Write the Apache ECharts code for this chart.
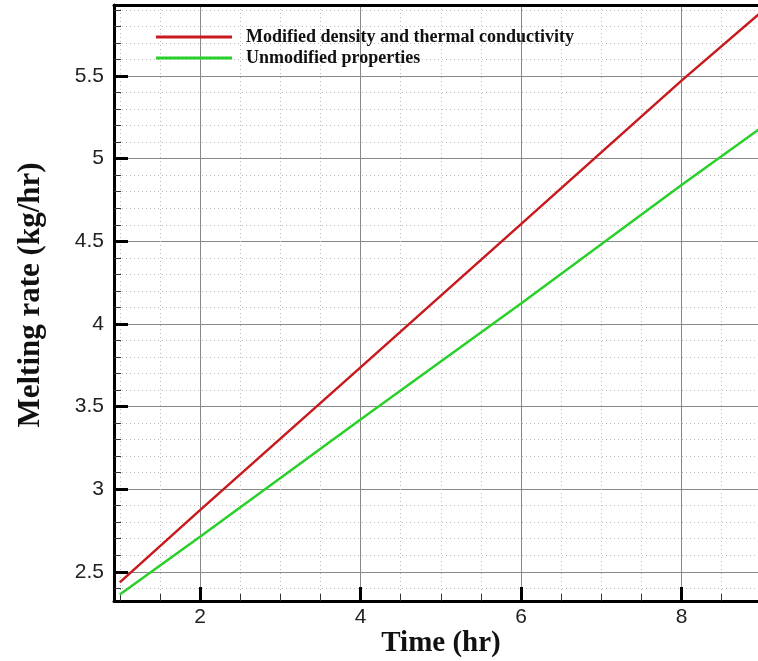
<!DOCTYPE html>
<html>
<head>
<meta charset="utf-8">
<script src="https://cdn.jsdelivr.net/npm/echarts@6/dist/echarts.min.js"></script>
<style>html,body{margin:0;padding:0;background:#fff;}#c{width:758px;height:661px;}</style>
</head>
<body>
<div id="c"></div>
<script>
// Data
var TIME = [1, 2, 4, 6, 8, 9];
var MODIFIED = [2.436, 2.873, 3.737, 4.604, 5.472, 5.89];
var UNMODIFIED = [2.363, 2.712, 3.422, 4.124, 4.840, 5.19];
var SERIES_NAMES = ['Modified density and thermal conductivity', 'Unmodified properties'];

// Axis ticks
var X_MAJOR = [2, 4, 6, 8];
var X_MINOR = [1, 1.5, 2.5, 3, 3.5, 4.5, 5, 5.5, 6.5, 7, 7.5, 8.5];
var Y_MAJOR = [2.5, 3, 3.5, 4, 4.5, 5, 5.5];
var Y_MINOR = [2.4, 2.6, 2.7, 2.8, 2.9, 3.1, 3.2, 3.3, 3.4, 3.6, 3.7, 3.8, 3.9,
               4.1, 4.2, 4.3, 4.4, 4.6, 4.7, 4.8, 4.9, 5.1, 5.2, 5.3, 5.4, 5.6, 5.7, 5.8, 5.9];
var X_RANGE = [0.928, 8.953];
var Y_RANGE = [2.323, 5.93];

function pairs(xs, ys) { return xs.map(function (x, i) { return [x, ys[i]]; }); }

var chart = echarts.init(document.getElementById('c'));
var labelFont = { fontFamily: 'Liberation Sans', fontSize: 21, color: '#222' };

chart.setOption({
  animation: false,
  backgroundColor: '#fff',
  grid: { left: 114, top: 5, right: 0, bottom: 60, outerBoundsMode: 'none', containLabel: false },
  legend: {
    orient: 'vertical',
    left: 156, top: 28, padding: 0,
    itemWidth: 76, itemHeight: 3, itemGap: 3,
    icon: 'rect',
    textStyle: { fontFamily: 'Liberation Serif', fontWeight: 'bold', fontSize: 18, color: '#111', padding: [0, 0, 0, 9] },
    data: SERIES_NAMES
  },
  xAxis: [
    { type: 'value', min: X_RANGE[0], max: X_RANGE[1], position: 'bottom',
      axisLine: { show: false },
      axisTick: { show: true, inside: true, length: 7, lineStyle: { color: '#333', width: 1 }, customValues: X_MINOR },
      axisLabel: { show: false },
      splitLine: { show: true, lineStyle: { color: '#bbb', type: [1, 3], width: 1 } } },
    { type: 'value', min: X_RANGE[0], max: X_RANGE[1], position: 'bottom',
      name: 'Time (hr)', nameLocation: 'middle', nameGap: 28, nameMoveOverlap: false,
      nameTextStyle: { fontFamily: 'Liberation Serif', fontWeight: 'bold', fontSize: 29, color: '#111', padding: [0, 0, 0, 10] },
      axisLine: { show: true, onZero: false, lineStyle: { color: '#000', width: 3 } },
      axisTick: { show: true, inside: true, length: 14, lineStyle: { color: '#000', width: 3 }, customValues: X_MAJOR },
      axisLabel: Object.assign({ customValues: X_MAJOR, margin: 6 }, labelFont),
      splitLine: { show: true, lineStyle: { color: '#888', width: 1 } } },
    { type: 'value', min: X_RANGE[0], max: X_RANGE[1], position: 'top',
      axisLine: { show: true, onZero: false, lineStyle: { color: '#000', width: 3 } },
      axisTick: { show: false }, axisLabel: { show: false }, splitLine: { show: false } }
  ],
  yAxis: [
    { type: 'value', min: Y_RANGE[0], max: Y_RANGE[1], position: 'left',
      axisLine: { show: false },
      axisTick: { show: true, inside: true, length: 7, lineStyle: { color: '#333', width: 1 }, customValues: Y_MINOR },
      axisLabel: { show: false },
      splitLine: { show: true, lineStyle: { color: '#bbb', type: [1, 3], width: 1 } } },
    { type: 'value', min: Y_RANGE[0], max: Y_RANGE[1], position: 'left',
      name: 'Melting rate (kg/hr)', nameLocation: 'middle', nameGap: 68,
      nameTextStyle: { fontFamily: 'Liberation Serif', fontWeight: 'bold', fontSize: 31, color: '#111', padding: [0, 0, 0, 16] },
      axisLine: { show: true, onZero: false, lineStyle: { color: '#000', width: 3 } },
      axisTick: { show: true, inside: true, length: 14, lineStyle: { color: '#000', width: 3 }, customValues: Y_MAJOR },
      axisLabel: Object.assign({ customValues: Y_MAJOR, margin: 10 }, labelFont),
      splitLine: { show: true, lineStyle: { color: '#888', width: 1 } } }
  ],
  series: [
    { name: SERIES_NAMES[0], type: 'line', xAxisIndex: 1, yAxisIndex: 1, data: pairs(TIME, MODIFIED),
      showSymbol: false, symbol: 'none', color: '#c81a1e', lineStyle: { color: '#c81a1e', width: 2.5 }, z: 5 },
    { name: SERIES_NAMES[1], type: 'line', xAxisIndex: 1, yAxisIndex: 1, data: pairs(TIME, UNMODIFIED),
      showSymbol: false, symbol: 'none', color: '#2ad02a', lineStyle: { color: '#2ad02a', width: 2.5 }, z: 5 }
  ]
});
</script>
</body>
</html>
